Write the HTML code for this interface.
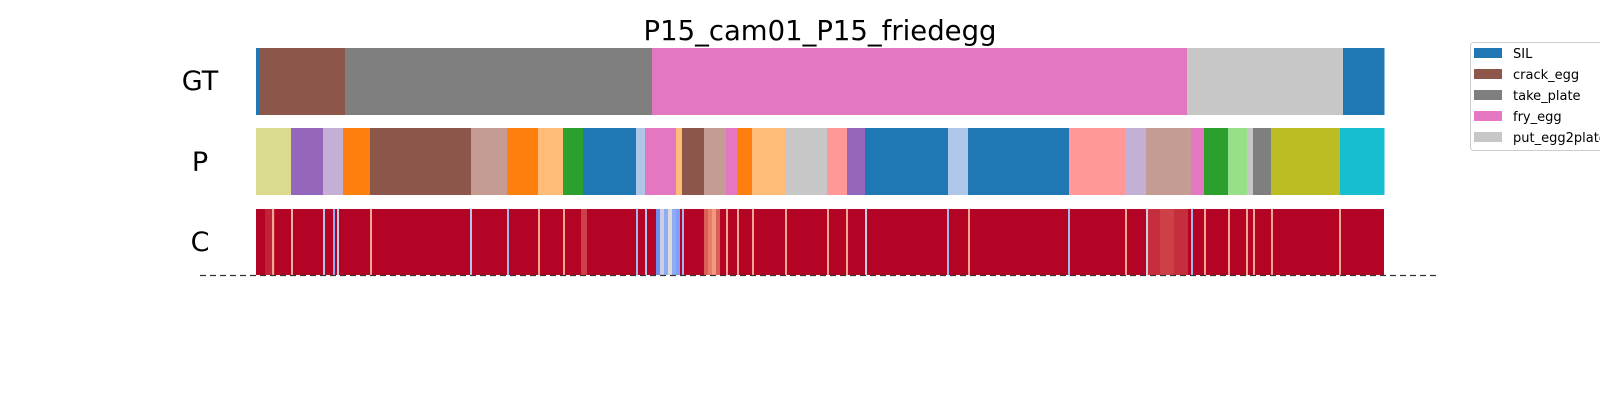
<!DOCTYPE html>
<html><head><meta charset="utf-8"><style>
body{margin:0;background:#fff;}
svg{display:block;font-family:"DejaVu Sans","Liberation Sans",sans-serif;}
</style></head><body>
<svg id="chart" width="1600" height="400" viewBox="0 0 1600 400" xmlns="http://www.w3.org/2000/svg">
<text x="820" y="40" font-size="27.5" text-anchor="middle" fill="#000">P15_cam01_P15_friedegg</text>
<text x="200" y="90" font-size="27" text-anchor="middle">GT</text>
<text x="200" y="171" font-size="27" text-anchor="middle">P</text>
<text x="200" y="251" font-size="27" text-anchor="middle">C</text>
<g id="gt"></g>
<g id="pr"></g>
<g id="cf"></g>
<line x1="200" y1="275.5" x2="1440" y2="275.5" stroke="#333" stroke-width="1.3" stroke-dasharray="6,4"/>
<g id="legend">
<rect x="1470.5" y="42.5" width="140" height="108" rx="3" fill="#fff" stroke="#ccc"/>
</g>
</svg>
<script>
const totalFrames = 1128;
const gtStarts = [0, 3, 89, 396, 931, 1087];
const gtLabels = ["SIL","crack_egg","take_plate","fry_egg","put_egg2plate","SIL"];
const predStarts = [0,35,67,87,114,215,251,282,307,327,380,389,420,426,448,470,481,496,529,571,591,609,692,712,813,869,890,935,948,972,991,997,1015,1084];
const predColors = ["#dbdb8d","#9467bd","#c5b0d5","#ff7f0e","#8c564b","#c49c94","#ff7f0e","#ffbb78","#2ca02c","#1f77b4","#aec7e8","#e377c2","#ffbb78","#8c564b","#c49c94","#e377c2","#ff7f0e","#ffbb78","#c7c7c7","#ff9896","#9467bd","#1f77b4","#aec7e8","#1f77b4","#ff9896","#c5b0d5","#c49c94","#e377c2","#2ca02c","#98df8a","#c7c7c7","#7f7f7f","#bcbd22","#17becf"];
const legendLabels = ["SIL","crack_egg","take_plate","fry_egg","put_egg2plate"];
const legendColors = ["#1f77b4","#8c564b","#7f7f7f","#e377c2","#c7c7c7"];
const labelColors = {"SIL":"#1f77b4","crack_egg":"#8c564b","take_plate":"#7f7f7f","fry_egg":"#e377c2","put_egg2plate":"#c7c7c7"};
const dipFrames = [9,16,35,67,77,81,114,214,251,282,307,325,380,389,400,404,408,412,416,420,426,448,452,456,460,470,481,496,529,571,590,609,691,712,812,869,890,892,904,918,935,948,972,990,997,1015,1083];
const dipWidths = [10,2,2,2,2,2,2,2,2,2,2,6,2,2,4,4,4,4,4,4,2,4,4,4,4,2,2,2,2,2,2,2,2,2,2,2,2,12,14,14,2,2,2,2,2,2,2];
const dipValues = [0.95,0.7,0.65,0.4,0.3,0.45,0.7,0.4,0.35,0.7,0.7,0.9,0.35,0.4,0.2,0.45,0.3,0.5,0.3,0.25,0.35,0.85,0.8,0.75,0.85,0.7,0.7,0.7,0.7,0.7,0.7,0.45,0.35,0.7,0.35,0.7,0.45,0.93,0.9,0.93,0.35,0.7,0.7,0.7,0.7,0.7,0.7];

const X0 = 256, X1 = 1384;
const xScale = f => X0 + (X1 - X0) * f / totalFrames;
const NS = "http://www.w3.org/2000/svg";
function mk(tag, attrs, parent){const e=document.createElementNS(NS,tag);for(const k in attrs)e.setAttribute(k,attrs[k]);parent.appendChild(e);return e;}
function coolwarm(v){
  const stops=[[0,[59,76,192]],[0.25,[124,159,249]],[0.5,[221,220,220]],[0.75,[244,154,123]],[1,[180,4,38]]];
  for(let i=0;i<stops.length-1;i++){const[a,ca]=stops[i],[b,cb]=stops[i+1];
    if(v<=b){const t=(v-a)/(b-a);return "rgb("+ca.map((c,j)=>Math.round(c+(cb[j]-c)*t)).join(",")+")";}}
  return "rgb(180,4,38)";
}
const gt=document.getElementById('gt');
gtStarts.forEach((s,i)=>{const e=(i+1<gtStarts.length)?gtStarts[i+1]:totalFrames;
  const r=mk('rect',{x:xScale(s),y:48,width:xScale(e)-xScale(s)+0.5,height:67,fill:labelColors[gtLabels[i]]},gt);
  
  
});
const pr=document.getElementById('pr');
predStarts.forEach((s,i)=>{const e=(i+1<predStarts.length)?predStarts[i+1]:totalFrames;
  const r=mk('rect',{x:xScale(s),y:128,width:xScale(e)-xScale(s)+0.5,height:67,fill:predColors[i]},pr);
  
  
});
const cf=document.getElementById('cf');
const base=mk('rect',{x:X0,y:209,width:X1-X0,height:66,fill:coolwarm(1)},cf);


dipFrames.forEach((f,i)=>{
  const r=mk('rect',{x:xScale(f),y:209,width:xScale(f+dipWidths[i])-xScale(f),height:66,fill:coolwarm(dipValues[i])},cf);
  
  
});
const lg=document.getElementById('legend');
legendLabels.forEach((l,i)=>{const y=53+i*21;
  const p=mk('rect',{x:1474,y:y-5,width:28,height:10,fill:legendColors[i]},lg);
  
  
  const t=mk('text',{x:1513,y:y+5,'font-size':13,fill:'#000'},lg);t.textContent=l;
  
  
});
</script>
</body></html>
